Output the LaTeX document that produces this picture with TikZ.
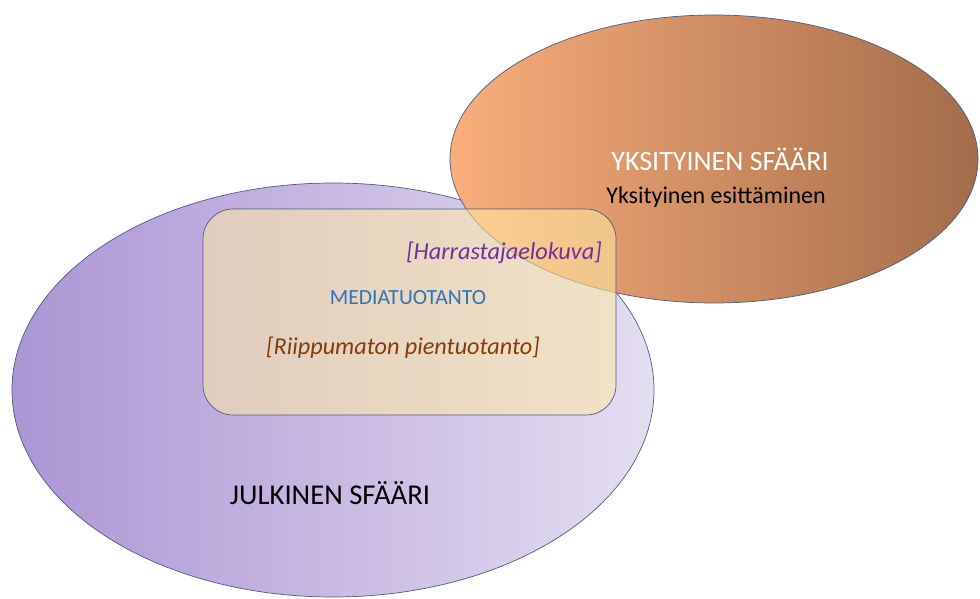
\documentclass[tikz,border=0pt]{standalone}
\usepackage{fontspec}
\setmainfont{Carlito}
\usetikzlibrary{shapes.geometric}

\definecolor{rimcol}{HTML}{4A5C80}
\definecolor{lilaleft}{HTML}{AC95D4}
\definecolor{lilaright}{HTML}{E4DEF1}
\definecolor{oranleft}{HTML}{FAAE7B}
\definecolor{oranright}{HTML}{A36C4B}
\definecolor{boxfill}{HTML}{FFEAA5}
\definecolor{harrcol}{HTML}{7030A0}
\definecolor{mediacol}{HTML}{2E75B6}
\definecolor{riipcol}{HTML}{843C0C}

\newcommand{\fsz}[1]{\fontsize{#1}{#1}\selectfont}

\begin{document}
\begin{tikzpicture}[x=1pt, y=-1pt]
   \tikzstyle{sphere}=[ellipse, draw=rimcol, line width=0.7pt, inner sep=0pt, outer sep=0pt]
   \tikzstyle{mediabox}=[rectangle, rounded corners=30pt, draw=rimcol, line width=0.7pt,
                         fill=boxfill, fill opacity=0.55, inner sep=0pt, minimum width=413pt, minimum height=206pt]
   \tikzstyle{every node}=[text opacity=1]

\useasboundingbox (0,0) rectangle (980,599);

% spheres
\node[sphere, left color=lilaleft, right color=lilaright,
      minimum width=642pt, minimum height=414pt] (julkinen) at (333,390) {};
\node[sphere, left color=oranleft, right color=oranright,
      minimum width=528pt, minimum height=288pt] (yksityinen) at (714,159) {};

% media production box
\node[mediabox] (media) at (409.5,312) {};

% texts
\node[text=white, font=\fsz{28}] (ysfaari) at (720,159) {YKSITYINEN SFÄÄRI};
\node[font=\fsz{24}] (esitt) at (716,197) {Yksityinen esittäminen};
\node[text=harrcol, font=\fsz{24.3}\itshape] (harr) at (504,253) {[Harrastajaelokuva]};
\node[text=mediacol, font=\fsz{21.6}] (mediat) at (408,298) {MEDIATUOTANTO};
\node[text=riipcol, font=\fsz{24.2}\itshape] (riip) at (403,348) {[Riippumaton pientuotanto]};
\node[font=\fsz{28.7}] (jsfaari) at (330,493) {JULKINEN SFÄÄRI};

\end{tikzpicture}
\end{document}
